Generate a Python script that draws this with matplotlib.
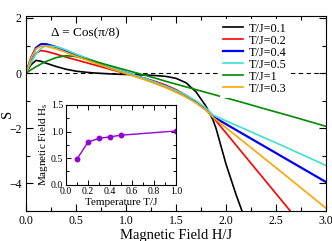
import matplotlib
matplotlib.use("Agg")
import matplotlib.pyplot as plt
from matplotlib.ticker import MultipleLocator

plt.rcParams['font.family'] = ['Liberation Serif', 'DejaVu Serif']
plt.rcParams['mathtext.fontset'] = 'custom'
plt.rcParams['mathtext.rm'] = 'Liberation Serif'
plt.rcParams['mathtext.it'] = 'Liberation Serif:italic'

# ---- data ----
H = [0, 0.05, 0.1, 0.15, 0.2, 0.3, 0.4, 0.5, 0.6, 0.7, 0.8, 0.9, 1.0, 1.1, 1.2,
     1.3, 1.4, 1.5, 1.6, 1.7, 1.8, 1.87, 1.9, 2.0, 2.1, 2.2, 2.4, 2.6, 2.8, 3.0]

S_T01 = [0, 0.30, 0.46, 0.43, 0.36, 0.24, 0.14, 0.07, 0.03, 0.0, -0.02, -0.04, -0.05, -0.06, -0.07,
         -0.09, -0.12, -0.19, -0.35, -0.68, -1.2, -1.7, -2.0, -3.3, -4.4, -5.4, -7.5, -9.5, -11.5, -13.5]
S_T02 = [0, 0.40, 0.72, 0.82, 0.79, 0.69, 0.58, 0.48, 0.38, 0.28, 0.18, 0.08, -0.02, -0.10, -0.20,
         -0.31, -0.44, -0.60, -0.80, -1.04, -1.32, -1.60, -1.73, -2.17, -2.61, -3.05, -3.93, -4.81, -5.70, -6.60]
S_T04 = [0, 0.55, 0.92, 1.05, 1.05, 0.95, 0.81, 0.66, 0.53, 0.40, 0.27, 0.14, 0.02, -0.10, -0.22,
         -0.36, -0.50, -0.66, -0.84, -1.05, -1.32, -1.58, -1.64, -1.85, -2.06, -2.27, -2.69, -3.11, -3.53, -3.95]
S_T05 = [0, 0.38, 0.70, 0.90, 0.99, 0.96, 0.84, 0.69, 0.55, 0.41, 0.28, 0.15, 0.03, -0.09, -0.21,
         -0.34, -0.48, -0.63, -0.80, -1.00, -1.27, -1.52, -1.57, -1.73, -1.89, -2.05, -2.37, -2.69, -3.02, -3.35]
S_T1 = [0, 0.12, 0.23, 0.33, 0.42, 0.56, 0.63, 0.60, 0.51, 0.41, 0.31, 0.21, 0.11, 0.01, -0.09,
        -0.19, -0.30, -0.40, -0.50, -0.60, -0.70, -0.77, -0.80, -0.90, -1.00, -1.10, -1.31, -1.51, -1.72, -1.93]
S_T03 = [0, 0.55, 0.88, 0.98, 0.97, 0.88, 0.75, 0.61, 0.48, 0.35, 0.22, 0.10, -0.02, -0.14, -0.26,
         -0.39, -0.53, -0.69, -0.87, -1.08, -1.35, -1.60, -1.69, -1.98, -2.27, -2.56, -3.14, -3.72, -4.31, -4.90]

series_labels = ["T/J=0.1", "T/J=0.2", "T/J=0.4", "T/J=0.5", "T/J=1", "T/J=0.3"]
series_colors = ["#000000", "#ff0000", "#0000ff", "#40e0d0", "#008b00", "#ffa500"]
series_values = [S_T01, S_T02, S_T04, S_T05, S_T1, S_T03]

T_inset = [0.1, 0.2, 0.3, 0.4, 0.5, 1.0]
Hs_inset = [0.48, 0.80, 0.87, 0.90, 0.93, 1.01]

W, Hpx = 332, 241
fig = plt.figure(figsize=(W / 100, Hpx / 100), dpi=100)

ax = fig.add_axes([26 / W, 1 - 211 / Hpx, 300 / W, 195 / Hpx])
ax.axhline(0, color='black', lw=0.8, ls=(0, (4, 3)), zorder=1)
for vals, lab, col in zip(series_values, series_labels, series_colors):
    lw = 1.6 if col == "#0000ff" else 1.2
    ax.plot(H, vals, color=col, lw=lw, label=lab, zorder=2)

ax.set_xlim(0, 3)
ax.set_ylim(-5, 2.07)
ax.xaxis.set_major_locator(MultipleLocator(0.5))
ax.xaxis.set_minor_locator(MultipleLocator(0.25))
ax.yaxis.set_major_locator(MultipleLocator(2))
ax.yaxis.set_minor_locator(MultipleLocator(1))
ax.tick_params(which='both', direction='in', top=True, right=True, labelsize=8.5, pad=3)
ax.tick_params(which='major', length=5, width=0.8)
ax.tick_params(which='minor', length=3, width=0.8)
ax.set_xlabel("Magnetic Field H/J", fontsize=10.5, labelpad=1)
ax.set_ylabel("S", fontsize=10.5, va='center')
ax.yaxis.set_label_coords(-0.063, 0.5)
for sp in ax.spines.values():
    sp.set_linewidth(0.8)
ax.text(0.083, 0.91, "\u0394 = Cos(\u03c0/8)", transform=ax.transAxes, fontsize=9.5,
        ha='left', va='center')

leg = ax.legend(loc='upper left', bbox_to_anchor=(0.645, 0.985), fontsize=8.8,
                frameon=True, framealpha=1, edgecolor='none', facecolor='white',
                handlelength=1.6, handletextpad=0.5, labelspacing=0.0,
                borderpad=0.3, borderaxespad=0.0, fancybox=False)
leg.set_zorder(5)

# ---- inset ----
axi = fig.add_axes([66 / W, 1 - 184.5 / Hpx, 110 / W, 79.5 / Hpx])
axi.set_facecolor('white')
axi.plot(T_inset, Hs_inset, color='#9400d3', lw=1.0, marker='o', ms=3.2)
axi.set_xlim(0, 1)
axi.set_ylim(0, 1.5)
axi.xaxis.set_major_locator(MultipleLocator(0.2))
axi.xaxis.set_minor_locator(MultipleLocator(0.1))
axi.yaxis.set_major_locator(MultipleLocator(0.5))
axi.yaxis.set_minor_locator(MultipleLocator(0.25))
axi.tick_params(which='both', direction='in', top=True, right=True, labelsize=7, pad=2)
axi.tick_params(which='major', length=3.5, width=0.7)
axi.tick_params(which='minor', length=2, width=0.7)
for sp in axi.spines.values():
    sp.set_linewidth(0.8)
axi.set_xlabel("Temperature T/J", fontsize=8, labelpad=1)
axi.set_ylabel(r"Magnetic Field H$_\mathrm{s}$", fontsize=8, labelpad=1)

fig.savefig("out.png", dpi=100)
